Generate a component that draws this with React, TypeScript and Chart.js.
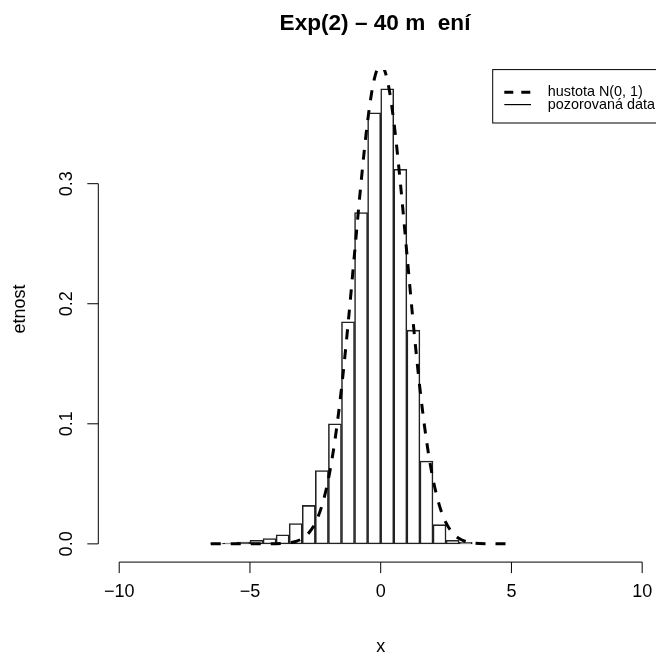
import React, { useEffect, useRef } from "react";
import { Chart, registerables } from "chart.js";

Chart.register(...registerables);

// ---- data ----
const binCenters = [-6.25, -5.75, -5.25, -4.75, -4.25, -3.75, -3.25, -2.75, -2.25, -1.75, -1.25, -0.75, -0.25, 0.25, 0.75, 1.25, 1.75, 2.25, 2.75, 3.25];
const binDensity = [0.0004, 0.0006, 0.0014, 0.003, 0.0045, 0.0075, 0.017, 0.032, 0.061, 0.1, 0.185, 0.276, 0.359, 0.379, 0.312, 0.178, 0.069, 0.016, 0.003, 0.0012];

const curveX = [-6.5, -5, -4.5, -4, -3.5, -3.25, -3, -2.75, -2.5, -2.25, -2, -1.75, -1.5, -1.25, -1, -0.75, -0.5, -0.25, 0, 0.25, 0.5, 0.75, 1, 1.25, 1.5, 1.75, 2, 2.25, 2.5, 2.75, 3, 3.25, 3.5, 4, 4.5, 4.8];
const curveY = [0, 0.0000015, 0.000016, 0.000134, 0.00087, 0.002, 0.0044, 0.0091, 0.0175, 0.0317, 0.054, 0.0863, 0.1295, 0.1826, 0.242, 0.3011, 0.3521, 0.3867, 0.3989, 0.3867, 0.3521, 0.3011, 0.242, 0.1826, 0.1295, 0.0863, 0.054, 0.0317, 0.0175, 0.0091, 0.0044, 0.002, 0.00087, 0.000134, 0.000016, 0];

const xTicks = [-10, -5, 0, 5, 10];
const xTickLabels = ["\u221210", "\u22125", "0", "5", "10"];
const yTicks = [0, 0.1, 0.2, 0.3];
const yTickLabels = ["0.0", "0.1", "0.2", "0.3"];

const titleText = "Exp(2) \u2013 40 m  en\u00ed";
const xTitle = "x";
const yTitle = "etnost";
const legendLabels = ["hustota N(0, 1)", "pozorovan\u00e1 data"];

const FONT = '"Liberation Sans", Arial, Helvetica, sans-serif';

const rAxesPlugin = {
  id: "rAxes",
  afterDraw(chart: any) {
    const ctx = chart.ctx as CanvasRenderingContext2D;
    const xs = chart.scales.x;
    const ys = chart.scales.y;
    const area = chart.chartArea;
    ctx.save();
    ctx.strokeStyle = "#000";
    ctx.fillStyle = "#000";
    ctx.lineWidth = 1;

    // x axis
    const ay = area.bottom;
    ctx.beginPath();
    ctx.moveTo(xs.getPixelForValue(xTicks[0]), ay);
    ctx.lineTo(xs.getPixelForValue(xTicks[xTicks.length - 1]), ay);
    xTicks.forEach((t) => {
      const px = xs.getPixelForValue(t);
      ctx.moveTo(px, ay);
      ctx.lineTo(px, ay + 11);
    });
    ctx.stroke();
    ctx.font = `18px ${FONT}`;
    ctx.textAlign = "center";
    ctx.textBaseline = "alphabetic";
    xTicks.forEach((t, i) => {
      ctx.fillText(xTickLabels[i], xs.getPixelForValue(t), ay + 35);
    });
    ctx.fillText(xTitle, (xs.getPixelForValue(-10) + xs.getPixelForValue(10)) / 2, ay + 90);

    // y axis
    const ax = area.left;
    ctx.beginPath();
    ctx.moveTo(ax, ys.getPixelForValue(yTicks[0]));
    ctx.lineTo(ax, ys.getPixelForValue(yTicks[yTicks.length - 1]));
    yTicks.forEach((t) => {
      const py = ys.getPixelForValue(t);
      ctx.moveTo(ax, py);
      ctx.lineTo(ax - 11, py);
    });
    ctx.stroke();
    yTicks.forEach((t, i) => {
      ctx.save();
      ctx.translate(ax - 26.6, ys.getPixelForValue(t));
      ctx.rotate(-Math.PI / 2);
      ctx.fillText(yTickLabels[i], 0, 0);
      ctx.restore();
    });
    ctx.save();
    ctx.translate(ax - 73, 309);
    ctx.rotate(-Math.PI / 2);
    ctx.fillText(yTitle, 0, 0);
    ctx.restore();

    // title
    ctx.font = `bold 22.6px ${FONT}`;
    ctx.fillText(titleText, 375, 30);

    // legend (top-right of plot region)
    const bx = 492.7;
    const by = area.top - 0.5;
    const bw = area.right - bx;
    const bh = 53.4;
    ctx.lineWidth = 1;
    ctx.strokeRect(bx, by, bw, bh);
    const r1 = by + 22.7;
    const r2 = by + 35;
    ctx.beginPath();
    ctx.lineWidth = 3;
    ctx.setLineDash([9, 8]);
    ctx.moveTo(bx + 11.6, r1);
    ctx.lineTo(bx + 38.3, r1);
    ctx.stroke();
    ctx.setLineDash([]);
    ctx.beginPath();
    ctx.lineWidth = 1.2;
    ctx.moveTo(bx + 11.6, r2);
    ctx.lineTo(bx + 38.3, r2);
    ctx.stroke();
    ctx.font = `14.4px ${FONT}`;
    ctx.textAlign = "left";
    ctx.textBaseline = "middle";
    ctx.fillText(legendLabels[0], bx + 55, r1);
    ctx.fillText(legendLabels[1], bx + 55, r2);
    ctx.restore();
  },
};

export default function App() {
  const ref = useRef<HTMLCanvasElement | null>(null);
  useEffect(() => {
    if (!ref.current) return;
    const chart = new Chart(ref.current, {
      data: {
        datasets: [
          {
            type: "line",
            data: curveX.map((x, i) => ({ x, y: curveY[i] })),
            borderColor: "#000",
            borderWidth: 3,
            borderDash: [10, 10],
            pointRadius: 0,
            fill: false,
            cubicInterpolationMode: "monotone",
          } as any,
          {
            type: "bar",
            data: binCenters.map((x, i) => ({ x, y: binDensity[i] })),
            backgroundColor: "rgba(255,255,255,0)",
            borderColor: "#222",
            borderWidth: 0.9,
            borderSkipped: false,
            barPercentage: 1,
            categoryPercentage: 1,
          } as any,
        ],
      },
      options: {
        animation: false,
        responsive: false,
        events: [],
        layout: {
          padding: { left: 98.3, right: 16.9, top: 70.1, bottom: 92.9 },
        },
        scales: {
          x: { type: "linear", min: -10.8, max: 10.8, display: false, offset: false },
          y: { type: "linear", min: -0.01518, max: 0.3946, display: false },
        },
        plugins: {
          legend: { display: false },
          tooltip: { enabled: false },
          title: { display: false },
        },
      },
      plugins: [rAxesPlugin],
    } as any);
    return () => chart.destroy();
  }, []);
  return (
    <div
      style={{
        position: "absolute",
        left: 0,
        top: 0,
        width: 656,
        height: 655,
        overflow: "hidden",
        background: "#fff",
      }}
    >
      <canvas ref={ref} width={680} height={655} style={{ display: "block" }} />
    </div>
  );
}
